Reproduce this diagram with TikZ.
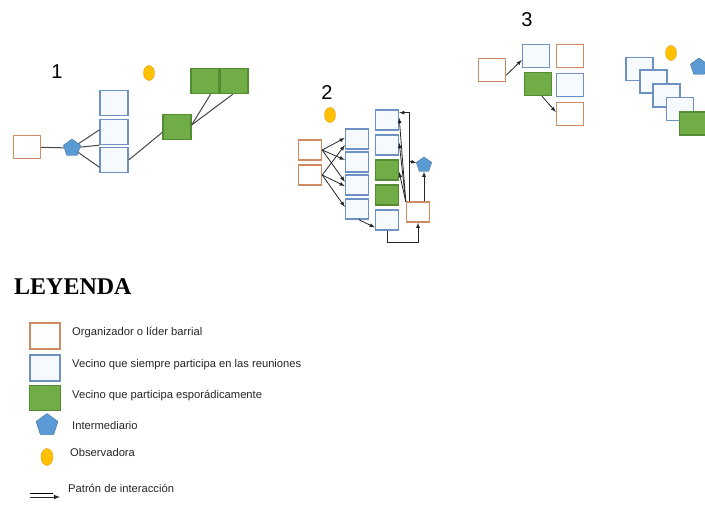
\documentclass[tikz,border=0pt]{standalone}
\usepackage{xcolor}
\usepackage{fontspec}
\setmainfont{Liberation Sans}
\newfontfamily\leyfont{Liberation Serif}
\usepackage{tikz}
\usetikzlibrary{positioning,arrows}
\usetikzlibrary{shapes.geometric}
\definecolor{orgline}{RGB}{205,140,100}
\definecolor{vecline}{RGB}{110,145,195}
\definecolor{vecfill}{RGB}{246,250,254}
\definecolor{espfill}{RGB}{112,173,71}
\definecolor{espline}{RGB}{84,140,52}
\definecolor{intfill}{RGB}{91,155,213}
\definecolor{intline}{RGB}{65,113,156}
\definecolor{obsfill}{RGB}{255,192,0}
\definecolor{obsline}{RGB}{230,160,20}
\definecolor{linecol}{RGB}{70,70,70}
\tikzset{
  box/.style={minimum width=27,minimum height=23,inner sep=0,line width=1.4pt},
  org/.style={box,draw=orgline,fill=white},
  vec/.style={box,draw=vecline,fill=vecfill},
  esp/.style={box,draw=espline,fill=espfill},
  sm/.style={minimum width=23,minimum height=20},
  big/.style={minimum width=28,minimum height=25},
  inter/.style={regular polygon,regular polygon sides=5,fill=intfill,draw=intline,
    inner sep=0,minimum size=18},
  obs/.style={ellipse,fill=obsfill,draw=obsline,inner sep=0,
    minimum width=11,minimum height=15},
  num/.style={font=\fontsize{20}{20}\selectfont},
  lgtext/.style={anchor=west,inner sep=0,text=black!85,font=\fontsize{11.2}{12}\selectfont},
  con/.style={draw=linecol,line width=1pt},
  arr/.style={->,draw=black!85,line width=0.8pt}
}

\begin{document}
\begin{tikzpicture}[x=1pt,y=-1pt,>=latex]
\useasboundingbox (0,0) rectangle (705,504);
% grupo 1
\node[num] (n1) at (57,72) {1};
\node[obs] (a9) at (149,73) {};
\node[org] (a0) at (27,147) {};
\node[inter] (ap) at (72,148) {};
\node[vec,big] (a1) at (114,103) {};
\node[vec,big] (a2) at (114,132) {};
\node[vec,big] (a3) at (114,160) {};
\node[esp,big] (g1) at (177,127) {};
\node[esp,big] (g2) at (205,81) {};
\node[esp,big] (g3) at (234,81) {};
\draw[con] (a0) -- (ap);
\draw[con] (ap) -- (a2.172);
\draw[con] (ap) -- (a2.south west);
\draw[con] (ap) -- (a3.206);
\draw[con] (a3.east) -- (g1.200);
\draw[con] (g2.-67) -- (g1.8);
\draw[con] (g3.-95) -- (g1.8);
% grupo 2
\node[num] (n2) at (327,93) {2};
\node[obs] (b9) at (330,115) {};
\node[org,sm] (o1) at (310,150) {};
\node[org,sm] (o2) at (310,175) {};
\node[vec,sm] (c1) at (357,139) {};
\node[vec,sm] (c2) at (357,162) {};
\node[vec,sm] (c3) at (357,185) {};
\node[vec,sm] (c4) at (357,209) {};
\node[vec,sm] (d1) at (387,120) {};
\node[vec,sm] (d2) at (387,145) {};
\node[esp,sm] (d3) at (387,170) {};
\node[esp,sm] (d4) at (387,195) {};
\node[vec,sm] (d5) at (387,220) {};
\node[org,sm] (r) at (418,212) {};
\node[inter,minimum size=16] (bp) at (424,165) {};
\draw[arr] (o1.east) -- (c1.175);
\draw[arr] (o2.east) -- (c1.207);
\draw[arr] (o1.east) -- (c2.170);
\draw[arr] (o1.east) -- (c3.165);
\draw[arr] (o2.east) -- (c3.185);
\draw[arr] (o2.east) -- (c4.170);
\draw[arr] (c4.280) -- (d5.211);
\draw[arr] (d5.south) -- ++(0,12) -| (r.south);
\draw[arr] (r.130) |- (d1.31);
\draw[arr] (r.140) -- (d1.10);
\draw[arr] (r.140) -- (d2.10);
\draw[arr] (r.140) -- (d3.350);
\coordinate (br) at (409,161);
\draw[arr] (br) -- (bp.165);
\draw[arr] (bp.south |- r.north) -- (bp.south);
% grupo 3
\node[num] (n3) at (527,20) {3};
\node[org] (e0) at (492,70) {};
\node[vec] (e1) at (536,56) {};
\node[org] (e2) at (570,56) {};
\node[esp] (e3) at (538,84) {};
\node[vec] (e4) at (570,85) {};
\node[org] (e5) at (570,114) {};
\draw[arr] (e0.-20) -- (e1.196);
\draw[arr] (e3.-72) -- (e5.172);
% grupo 4
\node[obs] (f9) at (671,53) {};
\node[inter] (fp) at (699,67) {};
\node[vec] (f1) at (639.5,69) {};
\node[vec] (f2) at (653.5,81.5) {};
\node[vec] (f3) at (666.5,95.5) {};
\node[vec] (f4) at (680,109) {};
\node[esp] (f5) at (693,123.5) {};
% leyenda
\node[anchor=west,inner sep=0,font=\leyfont\bfseries\fontsize{24}{24}\selectfont] (ley) at (14,287) {LEYENDA};
\node[org,minimum width=30,minimum height=26] (l1) at (45,336) {};
\node[vec,minimum width=30,minimum height=26] (l2) at (45,368) {};
\node[esp,minimum width=31,minimum height=25] (l3) at (45,398) {};
\node[inter,minimum size=23] (l4) at (47,425) {};
\node[obs,minimum width=12,minimum height=17] (l5) at (47,457) {};
\node[lgtext] (t1) at (72,333) {Organizador o líder barrial};
\node[lgtext] (t2) at (72,365) {Vecino que siempre participa en las reuniones};
\node[lgtext] (t3) at (72,396) {Vecino que participa esporádicamente};
\node[lgtext] (t4) at (72,425) {Intermediario};
\node[lgtext] (t5) at (70,452) {Observadora};
\node[lgtext] (t6) at (68,488) {Patrón de interacción};
\coordinate (la) at (30,493);
\coordinate (lb) at (30,497);
\draw[line width=0.9pt] (la) -- ++(23,0);
\draw[arr,line width=1pt] (lb) -- ++(30,0);
\end{tikzpicture}
\end{document}
